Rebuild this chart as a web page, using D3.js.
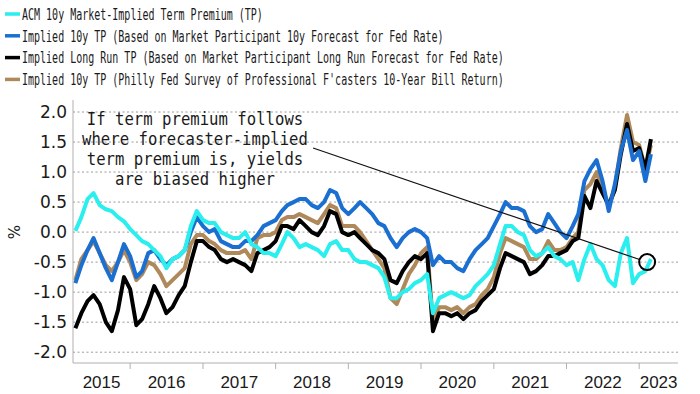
<!DOCTYPE html>
<html>
<head>
<meta charset="utf-8">
<script src="https://cdn.jsdelivr.net/npm/d3@7"></script>
<style>
	body { margin: 0; background: #fff; }
	svg { display: block; }
</style>
</head>
<body>
<div id="chart"></div>
<script>
// monthly readings, Apr 2015 -> Mar 2023
const months = d3.timeMonth.range(new Date(2015, 3, 1), new Date(2023, 3, 1));

const acmTP = [
	0.02, 0.25, 0.55, 0.65, 0.45, 0.38, 0.35, 0.25, 0.18,
	0.05, -0.05, -0.15, -0.2, -0.3, -0.4, -0.6, -0.45, -0.4, -0.3, 0.1, 0.35,
	0.2, 0.15, 0.15, 0.0, -0.05, -0.1, -0.1, 0.0, -0.2, -0.25, -0.35, -0.35,
	-0.4, -0.2, 0.0, -0.1, -0.25, -0.2, -0.25, -0.3, -0.4, -0.2, -0.15, -0.3,
	-0.3, -0.45, -0.5, -0.5, -0.55, -0.6, -0.75, -1.1, -1.1, -1.0, -0.95, -0.85,
	-0.8, -0.7, -1.35, -1.1, -1.05, -1.0, -1.05, -1.1, -1.05, -0.9, -0.8, -0.7,
	-0.55, -0.2, 0.1, 0.1, 0.0, -0.05, -0.3, -0.4, -0.35, -0.25, -0.4, -0.45,
	-0.55, -0.5, -0.8, -0.45, -0.2, -0.45, -0.55, -0.8, -0.9, -0.35, -0.1, -0.85,
	-0.7, -0.65, -0.45,
];

const implied10y = [
	-0.85, -0.55, -0.3, -0.1, -0.35, -0.6, -0.8, -0.5, -0.2,
	-0.4, -0.75, -0.65, -0.35, -0.3, -0.45, -0.55, -0.45, -0.4, -0.3, 0.0, 0.25,
	0.1, 0.0, 0.05, -0.15, -0.2, -0.25, -0.25, -0.15, -0.15, -0.05, 0.1, 0.15,
	0.2, 0.35, 0.45, 0.5, 0.55, 0.55, 0.45, 0.4, 0.5, 0.7, 0.65, 0.4,
	0.3, 0.4, 0.5, 0.4, 0.3, 0.15, 0.1, -0.1, -0.25, -0.1, 0.0, 0.05,
	0.0, -0.1, -0.55, -0.4, -0.5, -0.5, -0.6, -0.65, -0.45, -0.3, -0.2, -0.1,
	0.1, 0.3, 0.5, 0.4, 0.4, 0.35, 0.1, 0.0, 0.05, 0.3, 0.15, 0.0,
	-0.1, 0.1, 0.3, 0.85, 1.05, 1.2, 0.85, 0.35, 0.8, 1.35, 1.7, 1.2,
	1.35, 0.85, 1.3,
];

const impliedLongRun = [
	-1.6, -1.35, -1.15, -1.05, -1.2, -1.5, -1.65, -1.3, -0.75,
	-0.95, -1.55, -1.45, -1.2, -0.9, -1.1, -1.35, -1.25, -1.05, -0.9, -0.5, -0.15,
	-0.15, -0.25, -0.3, -0.45, -0.5, -0.45, -0.5, -0.55, -0.65, -0.35, -0.3, -0.25,
	-0.15, 0.1, 0.1, 0.05, 0.2, 0.1, 0.0, -0.05, 0.1, 0.35, 0.3, 0.0,
	-0.05, 0.0, -0.1, -0.2, -0.3, -0.35, -0.45, -0.8, -0.85, -0.65, -0.5, -0.4,
	-0.45, -0.35, -1.65, -1.35, -1.35, -1.4, -1.35, -1.45, -1.35, -1.3, -1.15, -1.05,
	-0.95, -0.6, -0.35, -0.4, -0.45, -0.5, -0.7, -0.65, -0.55, -0.4, -0.4, -0.35,
	-0.3, -0.15, -0.1, 0.6, 0.4, 0.85, 0.65, 0.45, 0.7, 1.3, 1.8, 1.35,
	1.4, 1.05, 1.55,
];

const impliedPhilly = [
	-0.8, -0.45, -0.3, -0.15, -0.35, -0.55, -0.65, -0.5, -0.3,
	-0.5, -0.8, -0.7, -0.5, -0.55, -0.7, -0.9, -0.8, -0.7, -0.6, -0.2, -0.05,
	-0.05, -0.15, -0.2, -0.3, -0.35, -0.35, -0.35, -0.3, -0.45, -0.1, -0.05, -0.05,
	0.0, 0.2, 0.25, 0.25, 0.3, 0.25, 0.2, 0.15, 0.3, 0.45, 0.4, 0.1,
	0.1, 0.1, 0.0, -0.15, -0.3, -0.45, -0.6, -1.1, -1.2, -0.95, -0.7, -0.55,
	-0.35, -0.25, -1.5, -1.25, -1.25, -1.3, -1.25, -1.35, -1.25, -1.2, -1.05, -0.95,
	-0.75, -0.35, -0.1, -0.15, -0.2, -0.25, -0.45, -0.45, -0.35, -0.15, -0.3, -0.3,
	-0.25, -0.1, 0.0, 0.7, 0.8, 1.0, 0.7, 0.45, 0.75, 1.4, 1.95, 1.5,
	1.45, 1.05, 1.45,
];

const legendLabels = [
	"ACM 10y Market-Implied Term Premium (TP)",
	"Implied 10y TP (Based on Market Participant 10y Forecast for Fed Rate)",
	"Implied Long Run TP (Based on Market Participant Long Run Forecast for Fed Rate)",
	"Implied 10y TP (Philly Fed Survey of Professional F'casters 10-Year Bill Return)",
];
const seriesColors = ["#2beeee", "#1a6fd0", "#000000", "#b0895a"];
const yTicks = [2.0, 1.5, 1.0, 0.5, 0.0, -0.5, -1.0, -1.5, -2.0];
const years = [2015, 2016, 2017, 2018, 2019, 2020, 2021, 2022, 2023];

const noteLines = [
	"If term premium follows",
	"where forecaster-implied",
	"term premium is, yields",
	"are biased higher",
];
// arrow from end of note to the circled point
const noteFrom = { date: new Date(2018, 6, 8), value: 1.4 };
const noteTo = { date: new Date(2023, 1, 10), value: -0.5 };

const width = 700;
const height = 394;

const svg = d3
	.select("#chart")
	.append("svg")
	.attr("width", width)
	.attr("height", height);

const x = d3
	.scaleTime()
	.domain([new Date(2015, 2, 20), new Date(2023, 6, 15)])
	.range([73, 678]);

const y = d3.scaleLinear().domain([-2.18, 2.2]).range([363, 100]);

// gridlines
svg
	.append("g")
	.selectAll("line")
	.data(yTicks)
	.enter()
	.append("line")
	.attr("x1", x.range()[0])
	.attr("x2", x.range()[1])
	.attr("y1", (d) => y(d))
	.attr("y2", (d) => y(d))
	.attr("stroke", "#9a9a9a")
	.attr("stroke-width", 1)
	.attr("stroke-dasharray", "2,2.5");

// axis lines
svg
	.append("line")
	.attr("x1", x.range()[0])
	.attr("x2", x.range()[0])
	.attr("y1", y.range()[1])
	.attr("y2", y.range()[0])
	.attr("stroke", "#b0b0b0");
svg
	.append("line")
	.attr("x1", x.range()[0])
	.attr("x2", x.range()[1])
	.attr("y1", y.range()[0])
	.attr("y2", y.range()[0])
	.attr("stroke", "#b0b0b0");

// y labels
svg
	.append("g")
	.selectAll("text")
	.data(yTicks)
	.enter()
	.append("text")
	.attr("x", 67)
	.attr("y", (d) => y(d))
	.attr("dy", "0.36em")
	.attr("text-anchor", "end")
	.attr("font-family", "DejaVu Sans")
	.attr("font-size", 17)
	.attr("fill", "#1a1a1a")
	.text((d) => d.toFixed(1));

svg
	.append("text")
	.attr("transform", `translate(15,${y(0)}) rotate(-90)`)
	.attr("text-anchor", "middle")
	.attr("dy", "0.36em")
	.attr("font-family", "DejaVu Sans")
	.attr("font-size", 15)
	.attr("fill", "#1a1a1a")
	.text("%");

// year ticks and labels
const [d0, d1] = x.domain();
svg
	.append("g")
	.selectAll("line")
	.data(years.slice(1))
	.enter()
	.append("line")
	.attr("x1", (d) => x(new Date(d, 0, 1)))
	.attr("x2", (d) => x(new Date(d, 0, 1)))
	.attr("y1", y.range()[0])
	.attr("y2", y.range()[0] + 6)
	.attr("stroke", "#b0b0b0");

svg
	.append("g")
	.selectAll("text")
	.data(years)
	.enter()
	.append("text")
	.attr("x", (d) => {
		const a = Math.max(+new Date(d, 0, 1), +d0);
		const b = Math.min(+new Date(d + 1, 0, 1), +d1);
		return (x(a) + x(b)) / 2;
	})
	.attr("y", 388)
	.attr("text-anchor", "middle")
	.attr("font-family", "Liberation Sans")
	.attr("font-size", 17)
	.attr("fill", "#1a1a1a")
	.text((d) => d);

// series lines
const allSeries = [acmTP, implied10y, impliedLongRun, impliedPhilly];
const drawOrder = [3, 2, 1, 0];

const line = d3
	.line()
	.x((d, i) => x(months[i]))
	.y((d) => y(d));

drawOrder.forEach((k) => {
	svg
		.append("path")
		.datum(allSeries[k])
		.attr("fill", "none")
		.attr("stroke", seriesColors[k])
		.attr("stroke-width", 4)
		.attr("stroke-linejoin", "round")
		.attr("d", line);
});

// annotation - monospace squeezed a little to match the original width
const noteScale = 0.92;
svg
	.append("g")
	.attr("transform", `translate(195,0) scale(${noteScale},1)`)
	.selectAll("text")
	.data(noteLines)
	.enter()
	.append("text")
	.attr("x", 0)
	.attr("y", (d, i) => 125 + i * 20)
	.attr("text-anchor", "middle")
	.attr("font-family", "DejaVu Sans Mono")
	.attr("font-size", 17)
	.attr("fill", "#1a1a1a")
	.text((d) => d);

const cx = x(noteTo.date);
const cy = y(noteTo.value);
const r = 8;
const sx = x(noteFrom.date);
const sy = y(noteFrom.value);
const ang = Math.atan2(cy - sy, cx - sx);

svg
	.append("line")
	.attr("x1", sx)
	.attr("y1", sy)
	.attr("x2", cx - r * Math.cos(ang))
	.attr("y2", cy - r * Math.sin(ang))
	.attr("stroke", "#111")
	.attr("stroke-width", 1.2);

svg
	.append("circle")
	.attr("cx", cx)
	.attr("cy", cy)
	.attr("r", r)
	.attr("fill", "none")
	.attr("stroke", "#000")
	.attr("stroke-width", 2);

// legend - condensed monospace
const legendScale = 0.626;
const legend = svg
	.append("g")
	.selectAll("g")
	.data(legendLabels)
	.enter()
	.append("g")
	.attr("transform", (d, i) => `translate(0, ${14 + i * 21.8})`);

legend
	.append("line")
	.attr("x1", 5)
	.attr("x2", 20)
	.attr("stroke", (d, i) => seriesColors[i])
	.attr("stroke-width", 3.5);

legend
	.append("text")
	.attr("transform", `translate(22,0) scale(${legendScale},1)`)
	.attr("dy", "0.36em")
	.attr("font-family", "DejaVu Sans Mono")
	.attr("font-size", 16)
	.attr("fill", "#1a1a1a")
	.text((d) => d);
</script>
</body>
</html>
